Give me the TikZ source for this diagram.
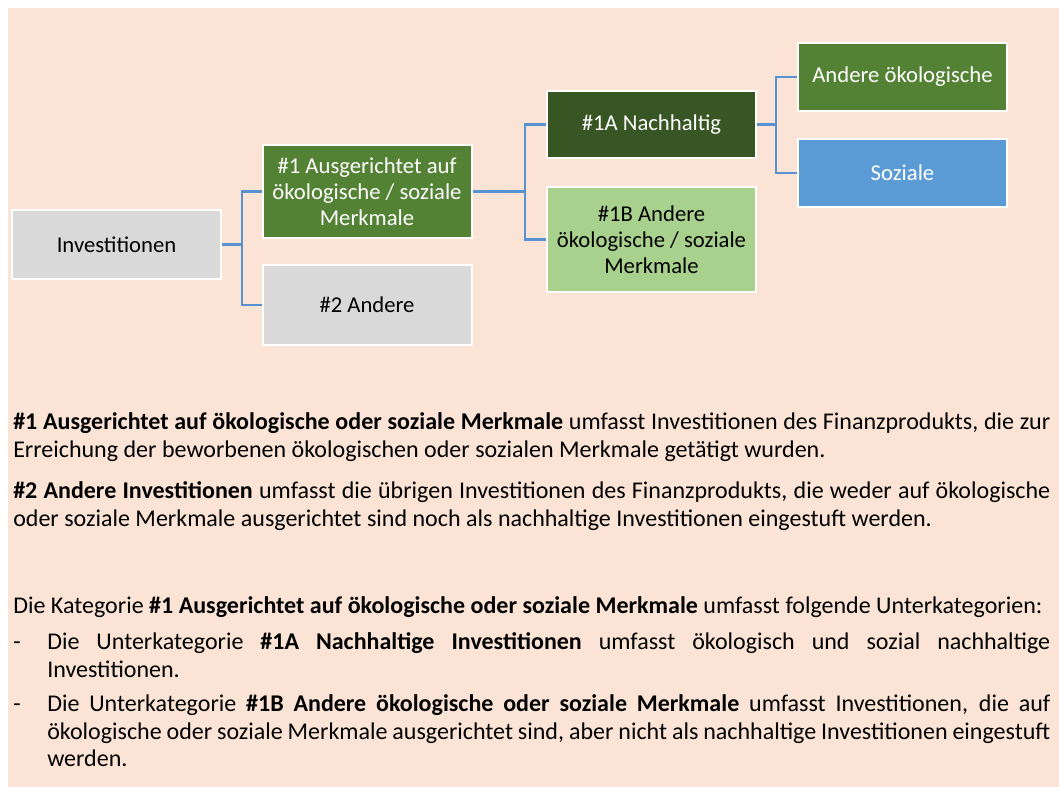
\documentclass[tikz,border=0pt]{standalone}
\usepackage{fontspec}
\setmainfont{Carlito}
\definecolor{peach}{HTML}{FBE4D5}
\definecolor{boxgray}{HTML}{D9D9D9}
\definecolor{midgreen}{HTML}{548235}
\definecolor{darkgreen}{HTML}{375623}
\definecolor{lightgreen}{HTML}{A9D18E}
\definecolor{skyblue}{HTML}{5B9BD5}
\definecolor{connblue}{HTML}{5592CF}
\newcommand\parsetup{\hyphenpenalty=10000\tolerance=9999\spaceskip=.23em plus .4em minus .09em\relax}
\tikzset{
  catbox/.style={draw=white, line width=1.5pt, minimum width=209*0.75pt, inner sep=1pt, align=center,
    font=\fontsize{17pt}{19.5pt}\selectfont},
  conn/.style={draw=connblue, line width=1.6pt},
  para/.style={anchor=north west, inner sep=0pt, text width=1037*0.75pt, align=justify,
    font=\fontsize{18pt}{20.75pt}\selectfont}
}
\begin{document}
\begin{tikzpicture}[x=0.75pt,y=-0.75pt]
\useasboundingbox (0,0) rectangle (1059,787);
\fill[white] (0,0) rectangle (1059,787);
\fill[peach] (8,8) rectangle (1059,787);
% boxes
\node[catbox, fill=boxgray, minimum height=69*0.75pt] (inv) at (116.5,244.5) {Investitionen};
\node[catbox, fill=midgreen, text=white, minimum height=93*0.75pt] (n1) at (367,191.5) {\#1 Ausgerichtet auf\\ökologische / soziale\\Merkmale};
\node[catbox, fill=boxgray, minimum height=80*0.75pt] (n2) at (367,305) {\#2 Andere};
\node[catbox, fill=darkgreen, text=white, minimum height=67*0.75pt] (n1a) at (651.5,124.5) {\#1A Nachhaltig};
\node[catbox, fill=lightgreen, minimum height=105*0.75pt] (n1b) at (651.5,239.5) {\#1B Andere\\ökologische / soziale\\Merkmale};
\node[catbox, fill=midgreen, text=white, minimum height=68*0.75pt] (eco) at (902.5,77) {Andere ökologische};
\node[catbox, fill=skyblue, text=white, minimum height=68*0.75pt] (soz) at (902.5,173) {Soziale};
% connectors
\coordinate (j1) at (242,0);
\coordinate (j2) at (525,0);
\coordinate (j3) at (776,0);
\draw[conn] (inv.east) -- (inv.east -| j1) |- (n1.west);
\draw[conn] (inv.east -| j1) |- (n2.west);
\draw[conn] (n1.east) -- (n1.east -| j2) |- (n1a.west);
\draw[conn] (n1.east -| j2) |- (n1b.west);
\draw[conn] (n1a.east) -- (n1a.east -| j3) |- (eco.west);
\draw[conn] (n1a.east -| j3) |- (soz.west);
% text
\node[para] (p1) at (13,410) {\parsetup\strut\textbf{\#1 Ausgerichtet auf ökologische oder soziale Merkmale} umfasst Investitionen des Finanzprodukts, die zur\linebreak Erreichung der beworbenen ökologischen oder sozialen Merkmale getätigt wurden.\par};
\node[para] (p2) at (13,479) {\parsetup\strut\textbf{\#2 Andere Investitionen} umfasst die übrigen Investitionen des Finanzprodukts, die weder auf ökologische\linebreak oder soziale Merkmale ausgerichtet sind noch als nachhaltige Investitionen eingestuft werden.\par};
\node[para] (p3) at (13,594) {\parsetup\strut Die Kategorie \textbf{\#1 Ausgerichtet auf ökologische oder soziale Merkmale} umfasst folgende Unterkategorien:\par};
\node[para] (b1) at (13,630) {\parsetup\hangindent=25.5pt\hangafter=1\strut\makebox[25.5pt][l]{-}Die Unterkategorie \textbf{\#1A Nachhaltige Investitionen} umfasst ökologisch und sozial nachhaltige\linebreak Investitionen.\par};
\node[para] (b2) at (13,692) {\parsetup\hangindent=25.5pt\hangafter=1\strut\makebox[25.5pt][l]{-}Die Unterkategorie \textbf{\#1B Andere ökologische oder soziale Merkmale} umfasst Investitionen, die auf\linebreak ökologische oder soziale Merkmale ausgerichtet sind, aber nicht als nachhaltige Investitionen eingestuft\linebreak werden.\par};
\end{tikzpicture}
\end{document}
